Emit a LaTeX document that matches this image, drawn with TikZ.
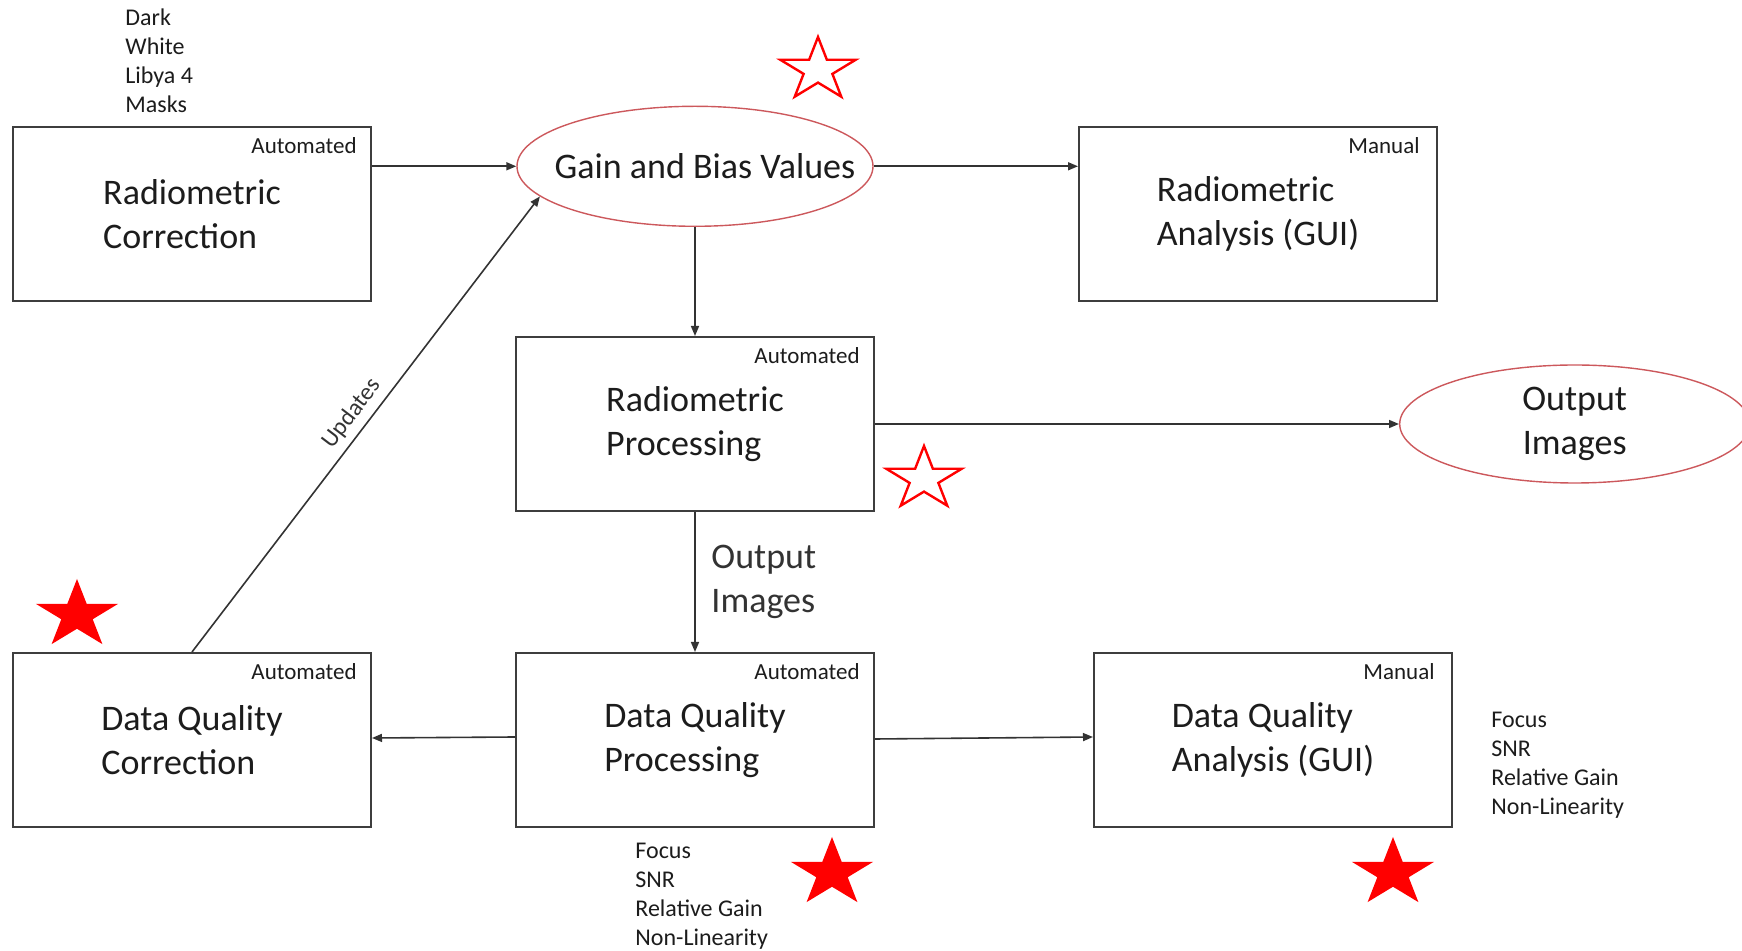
\documentclass[tikz,border=0pt]{standalone}
\usepackage{fontspec}
\setmainfont{Carlito}
\usetikzlibrary{positioning,arrows.meta,shapes.geometric}
\usepackage{xcolor}
\definecolor{ink}{RGB}{28,28,28}
\definecolor{frame}{RGB}{62,62,62}
\definecolor{rosered}{RGB}{204,88,92}
\definecolor{starred}{RGB}{255,0,0}
\tikzset{
  pics/starmark/.style={code={
    \path[pic actions,xscale=1.2] (90:#1pt)
      \foreach \a in {0,...,4} { -- (126+72*\a:0.382*#1pt) -- (162+72*\a:#1pt) } -- cycle;
  }},
}

\begin{document}
\begin{tikzpicture}[
  x=0.5pt,y=-0.5pt,
  color=ink,
  font=\fontsize{18}{22}\selectfont,
  >={Triangle[length=5pt,width=4pt]},
  procbox/.style={draw=frame,line width=1pt,minimum width=179pt,minimum height=87pt,align=left,inner sep=0pt},
  valoval/.style={ellipse,draw=rosered,line width=0.7pt,inner sep=0pt,align=center},
  tag/.style={font=\fontsize{11.5}{14}\selectfont,anchor=north east,inner xsep=7.5pt,inner ysep=5.5pt},
  note/.style={font=\fontsize{12}{14.5}\selectfont,align=left,inner sep=0pt},
  flow/.style={->,ink!90,line width=0.8pt},
  hollowstar/.style={draw=starred,line width=1.2pt,fill=white},
  solidstar/.style={fill=starred},
]
\useasboundingbox (0,0) rectangle (1742,951);
% ---- radiometric chain ----
\node[procbox] (rp) at (695,424) {Radiometric\\Processing};
\node[valoval,minimum width=178pt,minimum height=60pt,above=54.5pt of rp] (gbv) {};
\node (gbvtext) at ([xshift=5pt]gbv.center) {Gain and Bias Values};
\node[procbox,above left=17pt and 71.5pt of rp] (rc) {Radiometric\\Correction};
\node[procbox,above right=17pt and 101.5pt of rp] (ra) {Radiometric\\Analysis (GUI)};
\node[valoval,minimum width=175pt,minimum height=59pt,right=262pt of rp] (oi) {Output\\Images};
% ---- data quality row ----
\node[procbox,below=70pt of rp] (dqp) {Data Quality\\Processing};
\node[procbox,left=71.5pt of dqp] (dqc) {Data Quality\\Correction};
\node[procbox,right=109pt of dqp] (dqa) {Data Quality\\Analysis (GUI)};
% corner tags
\node[tag] (rctag) at (rc.north east) {Automated};
\node[tag,inner xsep=9pt] (ratag) at (ra.north east) {Manual};
\node[tag] (rptag) at (rp.north east) {Automated};
\node[tag] (dqctag) at (dqc.north east) {Automated};
\node[tag] (dqptag) at (dqp.north east) {Automated};
\node[tag,inner xsep=9pt] (dqatag) at (dqa.north east) {Manual};
% input / metric lists
\node[note,above right=6.5pt and 56.5pt of rc.north west] (callist) {Dark\\White\\Libya 4\\Masks};
\node[note,below right=7.5pt and 60pt of dqp.south west] (dqplist) {Focus\\SNR\\Relative Gain\\Non-Linearity};
\node[note,below right=30pt and 19pt of dqa.north east] (dqalist) {Focus\\SNR\\Relative Gain\\Non-Linearity};
% connectors
\draw[flow] (rc.east |- gbv.west) -- (gbv.west);
\draw[flow] (gbv.east) -- (gbv.east -| ra.west);
\draw[flow] (gbv.south) -- (rp.north);
\draw[flow] (rp.east) -- (oi.west);
\draw[flow] (rp.south) -- node[right=4.5pt,align=left] (imglabel) {Output\\Images} (dqp.north);
\draw[flow] ([yshift=1.5pt]dqp.west) -- ([yshift=1pt]dqc.east);
\draw[flow] ([yshift=0.5pt]dqp.east) -- ([yshift=1.5pt]dqa.west);
\draw[flow] (dqc.north) -- node[sloped,above,font=\fontsize{12}{14}\selectfont] (updlabel) {Updates} (gbv.191);
% star marks
\pic[hollowstar] at (818,70) {starmark=16.5};
\pic[hollowstar] at (924,479) {starmark=16.5};
\pic[solidstar] at (77,615) {starmark=18};
\pic[solidstar] at (832,873) {starmark=18};
\pic[solidstar] at (1393,873) {starmark=18};
\end{tikzpicture}
\end{document}
